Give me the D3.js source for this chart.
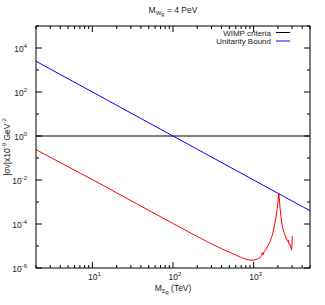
<!DOCTYPE html>
<head>
  <script src="https://d3js.org/d3.v7.min.js"></script>
  <style>
  body {margin: 0; background: white;}
  #chart {background-color: white;}
  text {font-family: "Liberation Sans", Arial, sans-serif; font-size: 8.5px; fill: #222;}
  .legend {font-size: 8px;}
  .frame {fill: none; stroke: #000; stroke-width: 1px;}
  .tick {stroke: #000; stroke-width: 1px;}
  </style>
</head>
<body>
  <svg id="chart" width="325" height="305"></svg>
  <script>
  // axis ranges
  var xDomain = [2, 5000];
  var yDomain = [1e-6, 1e5];
  var xMajor = [10, 100, 1000];
  var xMajorExp = ["1", "2", "3"];
  var yMajor = [1e-6, 1e-4, 1e-2, 1, 1e2, 1e4];
  var yMajorExp = ["-6", "-4", "-2", "0", "2", "4"];
  var yMinor = [1e-5, 1e-3, 1e-1, 1e1, 1e3, 1e5];

  // WIMP criteria
  var wimpM = [2, 5000];
  var wimpS = [1, 1];
  // unitarity bound
  var unitM = [2, 5000];
  var unitS = [2500, 4e-4];
  // cross section (red)
  var sigM = [2, 5, 10, 20, 50, 100, 200, 300, 400, 500, 600, 700, 800, 900, 1000,
    1100, 1200, 1250, 1280, 1300, 1350, 1400, 1500, 1600, 1700, 1800, 1900, 1950,
    2000, 2050, 2080, 2120, 2170, 2250, 2350, 2450, 2550, 2650, 2700, 2750, 2800,
    2850, 2920, 2960, 2990, 3010];
  var sigS = [0.24, 0.04, 0.0105, 2.6e-3, 4.2e-4, 1.05e-4, 2.7e-5, 1.25e-5, 7.5e-6,
    5.2e-6, 3.9e-6, 3.0e-6, 2.5e-6, 2.3e-6, 2.3e-6, 2.5e-6, 2.9e-6, 3.6e-6, 5.0e-6,
    4.0e-6, 5.5e-6, 6.5e-6, 1.0e-5, 1.6e-5, 3.0e-5, 7.5e-5, 2.2e-4, 4.5e-4, 1.0e-3,
    2.5e-3, 1.6e-3, 6.0e-4, 2.5e-4, 9e-5, 4.8e-5, 3.0e-5, 2.1e-5, 1.6e-5, 1.8e-5,
    1.2e-5, 1.3e-5, 1.0e-5, 8e-6, 6.5e-6, 1.2e-5, 2.8e-5];

  var svg = d3.select("#chart");
  var pLeft = 36, pRight = 310, pTop = 26, pBottom = 268;

  var x = d3.scaleLog().domain(xDomain).range([pLeft, pRight]);
  var y = d3.scaleLog().domain(yDomain).range([pBottom, pTop]);

  var line = d3.line()
    .x(function(d) { return x(d[0]); })
    .y(function(d) { return y(d[1]); });

  function zip(a, b) { return a.map(function(v, i) { return [v, b[i]]; }); }

  // clip
  svg.append("defs").append("clipPath").attr("id", "clip")
    .append("rect").attr("x", pLeft).attr("y", pTop)
    .attr("width", pRight - pLeft).attr("height", pBottom - pTop);

  var plot = svg.append("g").attr("clip-path", "url(#clip)");

  plot.append("path").attr("d", line(zip(wimpM, wimpS)))
    .attr("fill", "none").attr("stroke", "#000").attr("stroke-width", 1);
  plot.append("path").attr("d", line(zip(unitM, unitS)))
    .attr("fill", "none").attr("stroke", "#0000ff").attr("stroke-width", 1);
  plot.append("path").attr("d", line(zip(sigM, sigS)))
    .attr("fill", "none").attr("stroke", "#ff0000").attr("stroke-width", 1)
    .attr("stroke-linejoin", "round");

  // x ticks (inward, mirrored)
  var xMinor = [];
  [1, 10, 100, 1000].forEach(function(dec) {
    for (var k = 2; k <= 9; k++) {
      var v = dec * k;
      if (v >= xDomain[0] && v <= xDomain[1]) xMinor.push(v);
    }
  });
  xMinor.forEach(function(v) {
    svg.append("line").attr("class", "tick")
      .attr("x1", x(v)).attr("x2", x(v)).attr("y1", pBottom).attr("y2", pBottom - 3);
    svg.append("line").attr("class", "tick")
      .attr("x1", x(v)).attr("x2", x(v)).attr("y1", pTop).attr("y2", pTop + 3);
  });
  xMajor.forEach(function(v, i) {
    svg.append("line").attr("class", "tick")
      .attr("x1", x(v)).attr("x2", x(v)).attr("y1", pBottom).attr("y2", pBottom - 6);
    svg.append("line").attr("class", "tick")
      .attr("x1", x(v)).attr("x2", x(v)).attr("y1", pTop).attr("y2", pTop + 6);
    var t = svg.append("text").attr("x", x(v) + 2).attr("y", 280)
      .attr("text-anchor", "middle");
    t.append("tspan").text("10");
    t.append("tspan").attr("dy", -4).attr("font-size", "6px").text(xMajorExp[i]);
  });

  // y ticks
  yMinor.forEach(function(v) {
    svg.append("line").attr("class", "tick")
      .attr("x1", pLeft).attr("x2", pLeft + 3).attr("y1", y(v)).attr("y2", y(v));
    svg.append("line").attr("class", "tick")
      .attr("x1", pRight).attr("x2", pRight - 3).attr("y1", y(v)).attr("y2", y(v));
  });
  yMajor.forEach(function(v, i) {
    svg.append("line").attr("class", "tick")
      .attr("x1", pLeft).attr("x2", pLeft + 6).attr("y1", y(v)).attr("y2", y(v));
    svg.append("line").attr("class", "tick")
      .attr("x1", pRight).attr("x2", pRight - 6).attr("y1", y(v)).attr("y2", y(v));
    var t = svg.append("text").attr("x", 27).attr("y", y(v) + 4)
      .attr("text-anchor", "end");
    t.append("tspan").text("10");
    t.append("tspan").attr("dy", -4).attr("font-size", "6px").text(yMajorExp[i]);
  });

  // frame
  svg.append("rect").attr("class", "frame")
    .attr("x", pLeft).attr("y", pTop)
    .attr("width", pRight - pLeft).attr("height", pBottom - pTop);

  // title
  var title = svg.append("text").attr("x", 173).attr("y", 13).attr("text-anchor", "middle");
  title.append("tspan").text("M");
  title.append("tspan").attr("dy", 2).attr("font-size", "6px").text("W");
  title.append("tspan").attr("dy", 1.5).attr("font-size", "4.5px").text("R");
  title.append("tspan").attr("dy", -3.5).text(" = 4 PeV");

  // x label
  var xl = svg.append("text").attr("x", 173).attr("y", 291).attr("text-anchor", "middle");
  xl.append("tspan").text("M");
  xl.append("tspan").attr("dy", 2).attr("font-size", "6px").text("\u03A3");
  xl.append("tspan").attr("dy", 1.5).attr("font-size", "4.5px").text("R");
  xl.append("tspan").attr("dy", -3.5).text(" (TeV)");

  // y label
  var yl = svg.append("text").attr("transform", "translate(10,147) rotate(-90)")
    .attr("text-anchor", "middle");
  yl.append("tspan").text("|\u03C3v|x10");
  yl.append("tspan").attr("dy", -4).attr("font-size", "6px").text("-9");
  yl.append("tspan").attr("dy", 4).text(" GeV");
  yl.append("tspan").attr("dy", -4).attr("font-size", "6px").text("-2");

  // legend
  var legendNames = ["WIMP criteria", "Unitarity Bound"];
  var legendColors = ["#000", "#0000ff"];
  legendNames.forEach(function(name, i) {
    var ly = 32.5 + i * 8.5;
    svg.append("text").attr("class", "legend").attr("x", 271).attr("y", ly + 3)
      .attr("text-anchor", "end").text(name);
    svg.append("line").attr("x1", 276).attr("x2", 290).attr("y1", ly).attr("y2", ly)
      .attr("stroke", legendColors[i]).attr("stroke-width", 1);
  });
  </script>
</body>
